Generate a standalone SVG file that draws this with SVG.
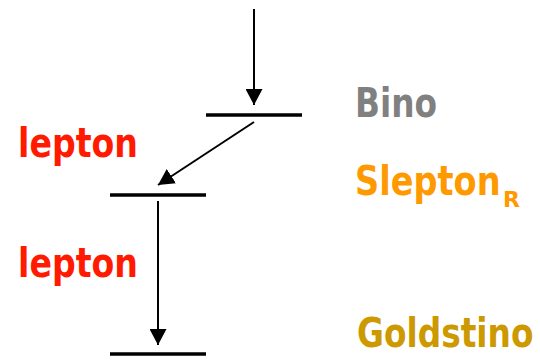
<svg xmlns="http://www.w3.org/2000/svg" width="540" height="362" viewBox="0 0 540 362">
<style>
.lvl{stroke:#000;stroke-width:3.5;}
.conn{stroke:#000;stroke-width:2;fill:none;}
.t{font-family:"DejaVu Sans","Liberation Sans",sans-serif;font-weight:bold;font-size:40px;}
.sub{font-family:"DejaVu Sans","Liberation Sans",sans-serif;font-weight:bold;font-size:22px;}
</style>
<defs>
<marker id="ah" markerUnits="userSpaceOnUse" markerWidth="17" markerHeight="17" refX="16" refY="8.5" orient="auto">
<path d="M0,0 L16,8.5 L0,17 z" fill="#000"/>
</marker>
</defs>
<rect width="540" height="362" fill="#fff"/>
<g id="bino">
<line class="lvl" x1="206" y1="115" x2="302" y2="115"/>
<text class="t" transform="translate(355,117) scale(0.82,1)" fill="#808080">Bino</text>
</g>
<g id="slepton">
<line class="lvl" x1="110" y1="195" x2="206" y2="195"/>
<text class="t" transform="translate(355,195) scale(0.84,1)" fill="#ff9900">Slepton</text>
<text class="sub" x="503" y="207" fill="#ff9900">R</text>
</g>
<g id="goldstino">
<line class="lvl" x1="110" y1="354" x2="206" y2="354"/>
<text class="t" transform="translate(357,347) scale(0.82,1)" fill="#cc9900">Goldstino</text>
</g>
<g id="labels">
<text class="t" transform="translate(18,157) scale(0.83,1)" fill="#ff1a00">lepton</text>
<text class="t" transform="translate(18,277) scale(0.83,1)" fill="#ff1a00">lepton</text>
</g>
<g id="connectors">
<line class="conn" x1="254" y1="9" x2="254" y2="105" marker-end="url(#ah)"/>
<line class="conn" x1="254" y1="122" x2="158" y2="185" marker-end="url(#ah)"/>
<line class="conn" x1="158" y1="201" x2="158" y2="345" marker-end="url(#ah)"/>
</g>
</svg>
